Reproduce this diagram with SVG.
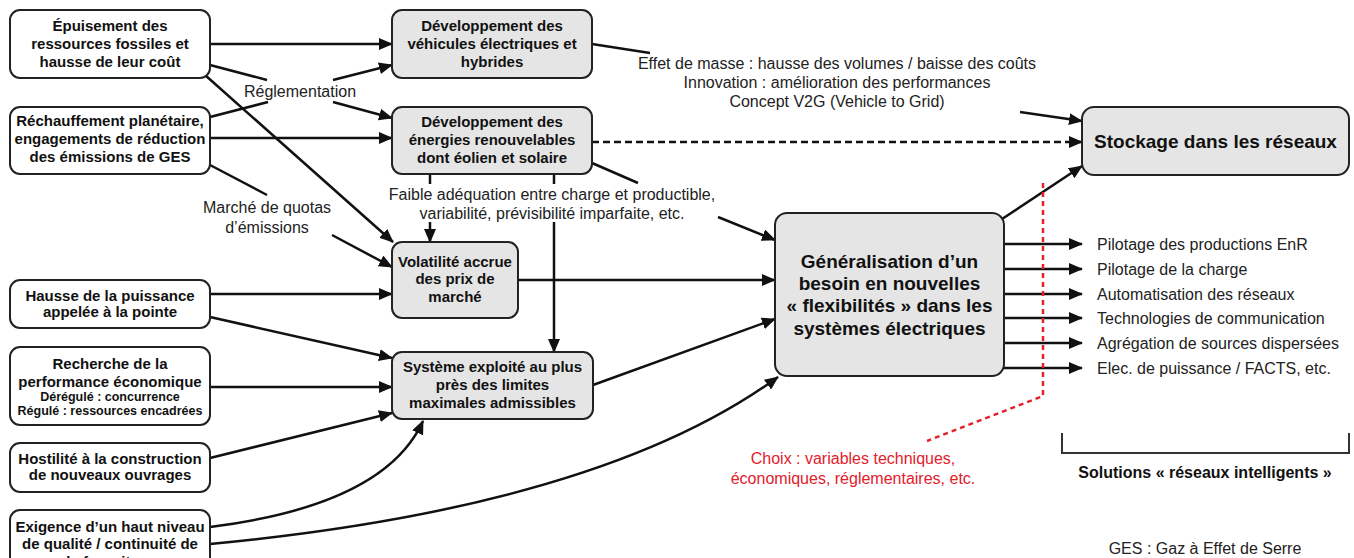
<svg xmlns="http://www.w3.org/2000/svg" width="1354" height="558" viewBox="0 0 1354 558">
<defs>
<marker id="ah" viewBox="0 0 14 12" refX="13" refY="6" markerWidth="14" markerHeight="12" orient="auto" markerUnits="userSpaceOnUse">
<path d="M0,0 L14,6 L0,12 z" fill="#111"/>
</marker>
</defs>
<style>
.n rect{fill:#fff;stroke:#222;stroke-width:2}
.g rect{fill:#e5e5e5}
.t{font-family:"Liberation Sans",Arial,sans-serif;font-weight:bold;font-size:15px;fill:#111;text-anchor:middle}
.s{font-size:12.5px}
.b{font-size:19px}
.l{font-family:"Liberation Sans",Arial,sans-serif;font-size:16px;fill:#222;text-anchor:middle}
.o{text-anchor:start}
.r{fill:#e3202b}
.c line,.c path{stroke:#111;stroke-width:2.5;fill:none}
.a{marker-end:url(#ah)}
.d{stroke-dasharray:7 4}
.rd{stroke:#e3202b !important;stroke-dasharray:5 4}
</style>
<rect width="1354" height="558" fill="#fff"/>

<g id="connectors" class="c">
<line class="a" x1="210" y1="44" x2="392" y2="44"/>
<line class="a" x1="210" y1="138" x2="392" y2="138"/>
<line x1="210" y1="65" x2="267" y2="80"/>
<line class="a" x1="333" y1="102" x2="392" y2="118"/>
<line x1="210" y1="117" x2="268" y2="102"/>
<line class="a" x1="333" y1="80" x2="392" y2="65"/>
<line class="a" x1="205" y1="75" x2="393" y2="242"/>
<line x1="210" y1="165" x2="267" y2="195"/>
<line class="a" x1="332" y1="235" x2="392" y2="267"/>
<line class="a" x1="210" y1="294" x2="392" y2="294"/>
<line class="a" x1="210" y1="317" x2="392" y2="358"/>
<line class="a" x1="210" y1="387" x2="392" y2="387"/>
<line class="a" x1="210" y1="458" x2="392" y2="413"/>
<path class="a" d="M210,527 Q385,505 423,421"/>
<path class="a" d="M210,544 Q600,507 778,377"/>
<line x1="592" y1="44" x2="650" y2="53"/>
<line class="a" x1="1020" y1="112" x2="1082" y2="121"/>
<line class="a d" x1="592" y1="142" x2="1082" y2="142"/>
<line x1="430" y1="174" x2="430" y2="184"/>
<line x1="554" y1="174" x2="554" y2="184"/>
<line x1="592" y1="163" x2="638" y2="183"/>
<line class="a" x1="430" y1="222" x2="430" y2="242"/>
<line class="a" x1="554" y1="222" x2="554" y2="352"/>
<line class="a" x1="718" y1="217" x2="775" y2="240"/>
<line class="a" x1="518" y1="280" x2="775" y2="280"/>
<line class="a" x1="593" y1="385" x2="775" y2="319"/>
<line class="a" x1="1002" y1="219" x2="1082" y2="166"/>
<line class="a" x1="1004" y1="244" x2="1082" y2="244"/>
<line class="a" x1="1004" y1="269" x2="1082" y2="269"/>
<line class="a" x1="1004" y1="294" x2="1082" y2="294"/>
<line class="a" x1="1004" y1="318" x2="1082" y2="318"/>
<line class="a" x1="1004" y1="343" x2="1082" y2="343"/>
<line class="a" x1="1004" y1="368" x2="1082" y2="368"/>
<path class="rd" d="M1043,183 V396 L927,441"/>
<path style="stroke:#333;stroke-width:2" d="M1062,433 V453 H1349 V433"/>
</g>

<g id="n1" class="n"><rect x="10" y="10" width="200" height="68" rx="10"/>
<text class="t" x="110" y="31">Épuisement des</text><text class="t" x="110" y="49">ressources fossiles et</text><text class="t" x="110" y="67">hausse de leur coût</text></g>
<g id="n2" class="n"><rect x="10" y="107" width="200" height="67" rx="10"/>
<text class="t" x="110" y="126">Réchauffement planétaire,</text><text class="t" x="110" y="144">engagements de réduction</text><text class="t" x="110" y="162">des émissions de GES</text></g>
<g id="n3" class="n"><rect x="10" y="280" width="200" height="48" rx="10"/>
<text class="t" x="110" y="301">Hausse de la puissance</text><text class="t" x="110" y="317">appelée à la pointe</text></g>
<g id="n4" class="n"><rect x="10" y="347" width="200" height="78" rx="10"/>
<text class="t" x="110" y="369">Recherche de la</text><text class="t" x="110" y="387">performance économique</text>
<text class="t s" x="110" y="401">Dérégulé : concurrence</text><text class="t s" x="110" y="415">Régulé : ressources encadrées</text></g>
<g id="n5" class="n"><rect x="10" y="443" width="200" height="49" rx="10"/>
<text class="t" x="110" y="464">Hostilité à la construction</text><text class="t" x="110" y="480">de nouveaux ouvrages</text></g>
<g id="n6" class="n"><rect x="10" y="510" width="200" height="78" rx="10"/>
<text class="t" x="110" y="532">Exigence d’un haut niveau</text><text class="t" x="110" y="549">de qualité / continuité de</text><text class="t" x="110" y="567">la fourniture</text></g>

<g id="m1" class="n g"><rect x="392" y="10" width="200" height="68" rx="10"/>
<text class="t" x="492" y="31">Développement des</text><text class="t" x="492" y="49">véhicules électriques et</text><text class="t" x="492" y="67">hybrides</text></g>
<g id="m2" class="n g"><rect x="392" y="107" width="200" height="67" rx="10"/>
<text class="t" x="492" y="127">Développement des</text><text class="t" x="492" y="145">énergies renouvelables</text><text class="t" x="492" y="163">dont éolien et solaire</text></g>
<g id="m3" class="n g"><rect x="392" y="242" width="126" height="76" rx="10"/>
<text class="t" x="455" y="267">Volatilité accrue</text><text class="t" x="455" y="284">des prix de</text><text class="t" x="455" y="302">marché</text></g>
<g id="m4" class="n g"><rect x="392" y="352" width="201" height="67" rx="10"/>
<text class="t" x="492.5" y="372">Système exploité au plus</text><text class="t" x="492.5" y="390">près des limites</text><text class="t" x="492.5" y="408">maximales admissibles</text></g>
<g id="gen" class="n g"><rect x="775" y="213" width="229" height="163" rx="12"/>
<text class="t b" x="889.5" y="268">Généralisation d’un</text><text class="t b" x="889.5" y="290">besoin en nouvelles</text><text class="t b" x="889.5" y="312">« flexibilités » dans les</text><text class="t b" x="889.5" y="335">systèmes électriques</text></g>
<g id="stock" class="n g"><rect x="1082" y="107" width="267" height="68" rx="12"/>
<text class="t b" x="1215.5" y="148">Stockage dans les réseaux</text></g>

<g id="labels">
<text class="l" x="300" y="97">Réglementation</text>
<text class="l" x="267" y="213">Marché de quotas</text>
<text class="l" x="267" y="233">d’émissions</text>
<text class="l" x="552" y="200">Faible adéquation entre charge et productible,</text>
<text class="l" x="552" y="219">variabilité, prévisibilité imparfaite, etc.</text>
<text class="l" x="837" y="69">Effet de masse : hausse des volumes / baisse des coûts</text>
<text class="l" x="837" y="88">Innovation : amélioration des performances</text>
<text class="l" x="837" y="107">Concept V2G (Vehicle to Grid)</text>
<text class="l o" x="1097" y="250">Pilotage des productions EnR</text>
<text class="l o" x="1097" y="275">Pilotage de la charge</text>
<text class="l o" x="1097" y="300">Automatisation des réseaux</text>
<text class="l o" x="1097" y="324">Technologies de communication</text>
<text class="l o" x="1097" y="349">Agrégation de sources dispersées</text>
<text class="l o" x="1097" y="374">Elec. de puissance / FACTS, etc.</text>
<text class="l r" x="853" y="464">Choix : variables techniques,</text>
<text class="l r" x="853" y="484">économiques, réglementaires, etc.</text>
<text class="t" style="font-size:16px" x="1205" y="478">Solutions « réseaux intelligents »</text>
<text class="l" x="1205" y="554">GES : Gaz à Effet de Serre</text>
</g>
</svg>
